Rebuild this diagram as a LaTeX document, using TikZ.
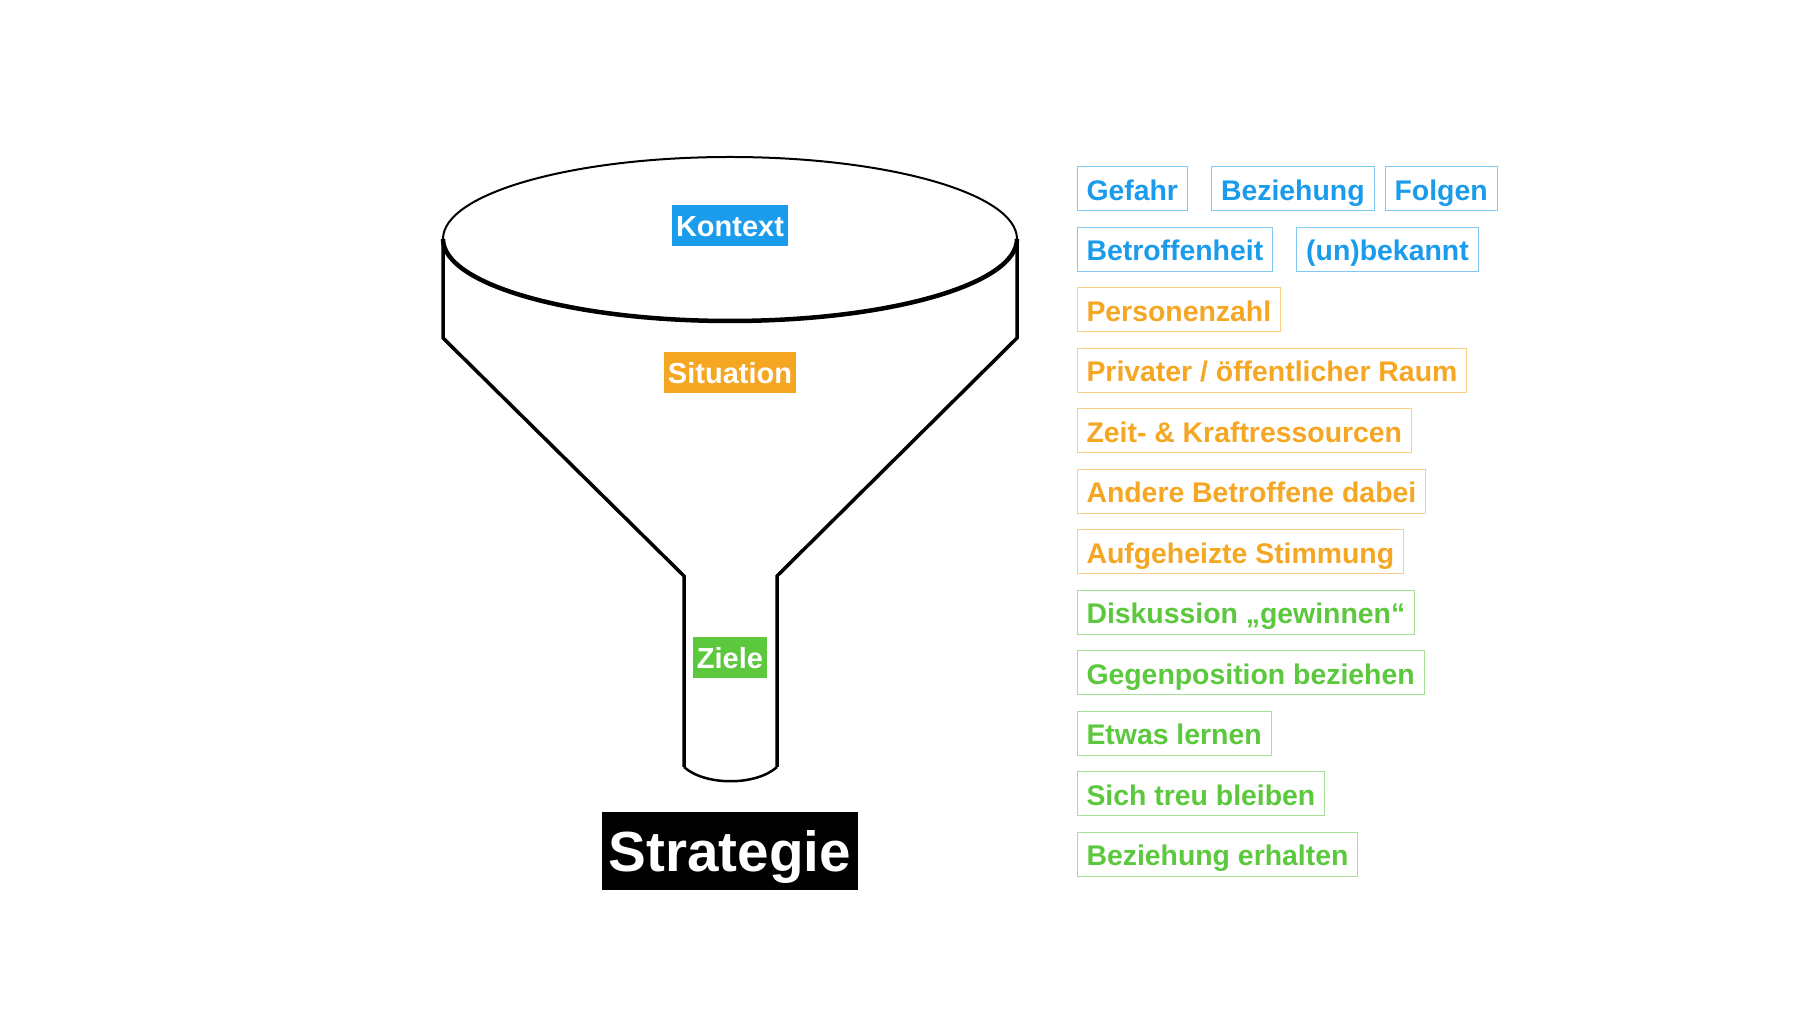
\documentclass[tikz,border=0pt]{standalone}
\usepackage{fontspec}
\setmainfont{Liberation Sans}
\usepackage{tikz}
\usetikzlibrary{positioning}

\definecolor{ctxblue}{RGB}{27,155,235}
\definecolor{sitorange}{RGB}{245,166,35}
\definecolor{zielgreen}{RGB}{92,200,62}

\tikzset{
  tag/.style={draw=#1!55!white, text=#1, line width=0.5pt, outer sep=0pt,
    font=\fontsize{14.2pt}{17pt}\selectfont\bfseries,
    inner xsep=4.75pt, inner ysep=0pt, text height=16.7pt, text depth=5.3pt,
    anchor=north west},
  stage/.style={fill=#1, text=white,
    font=\fontsize{14.5pt}{17pt}\selectfont\bfseries,
    inner xsep=2pt, inner ysep=0pt, text height=15.5pt, text depth=5pt},
  funnel/.style={line width=1.75pt, line join=miter}
}

\begin{document}
\begin{tikzpicture}[x=0.5pt,y=0.5pt]
  \path[fill=white] (0,0) rectangle (1800,1013);
  \useasboundingbox (0,0) rectangle (1800,1013);

  % funnel
  \draw[line width=1pt] (1017,774) arc[start angle=0, end angle=180, x radius=287, y radius=82];
  \draw[line width=2.25pt] (443,774) arc[start angle=180, end angle=360, x radius=287, y radius=82];
  \draw[funnel] (443,774) -- (443,675) -- (684,437) -- (684,246);
  \draw[funnel] (1017,774) -- (1017,675) -- (777,437) -- (777,246);
  \draw[line width=1.25pt] (684,246) .. controls (705,227) and (756,227) .. (777,246);

  \node (kontext) [stage=ctxblue] at (730,787) {Kontext};
  \node (situation) [stage=sitorange] at (730,640) {Situation};
  \node (ziele) [stage=zielgreen] at (730,355) {Ziele};
  \node (strategie) [fill=black, text=white, inner xsep=3.25pt, inner ysep=0pt,
    text height=30pt, text depth=9pt,
    font=\fontsize{28.3pt}{32pt}\selectfont\bfseries] at (730,162) {Strategie};

  % factors
  \node (gefahr) [tag=ctxblue] at (1077,846) {Gefahr};
  \node (bez) [tag=ctxblue, right=12pt of gefahr] {Beziehung};
  \node (folgen) [tag=ctxblue, right=5.5pt of bez] {Folgen};
  \node (betr) [tag=ctxblue, below=8.25pt of gefahr.south west, anchor=north west] {Betroffenheit};
  \node (unbek) [tag=ctxblue, right=12pt of betr] {(un)bekannt};
  \node (pers) [tag=sitorange, below=8.25pt of betr.south west, anchor=north west] {Personenzahl};
  \node (raum) [tag=sitorange, below=8.25pt of pers.south west, anchor=north west] {Privater / öffentlicher Raum};
  \node (zeit) [tag=sitorange, below=8.25pt of raum.south west, anchor=north west] {Zeit- \& Kraftressourcen};
  \node (andere) [tag=sitorange, below=8.25pt of zeit.south west, anchor=north west] {Andere Betroffene dabei};
  \node (stimm) [tag=sitorange, below=8.25pt of andere.south west, anchor=north west] {Aufgeheizte Stimmung};
  \node (disk) [tag=zielgreen, below=8.25pt of stimm.south west, anchor=north west] {Diskussion „gewinnen“};
  \node (gegen) [tag=zielgreen, below=8.25pt of disk.south west, anchor=north west] {Gegenposition beziehen};
  \node (lernen) [tag=zielgreen, below=8.25pt of gegen.south west, anchor=north west] {Etwas lernen};
  \node (treu) [tag=zielgreen, below=8.25pt of lernen.south west, anchor=north west] {Sich treu bleiben};
  \node (erhalten) [tag=zielgreen, below=8.25pt of treu.south west, anchor=north west] {Beziehung erhalten};
\end{tikzpicture}
\end{document}
